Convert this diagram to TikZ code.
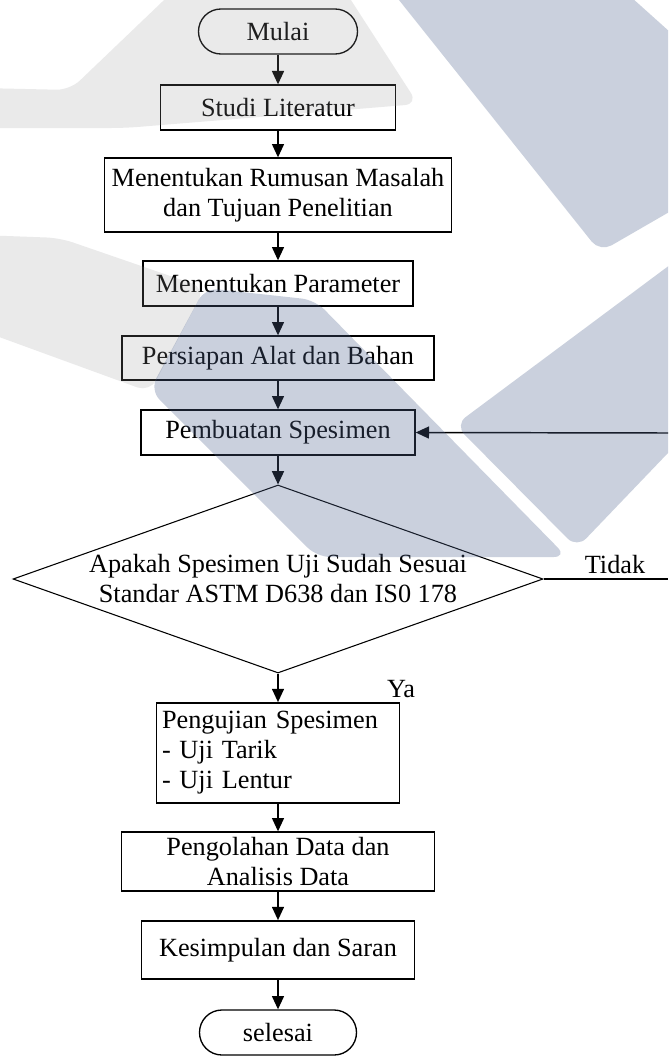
\documentclass[tikz,border=0pt]{standalone}
\usepackage{fontspec}
\setmainfont{Liberation Serif}
\usetikzlibrary{shapes.geometric,arrows.meta}
\newcommand\flowfont{\fontsize{19.7}{22.5}\selectfont}
\definecolor{wmblue}{RGB}{82,102,145}
\definecolor{wmgrey}{RGB}{150,150,152}
\begin{document}
\begin{tikzpicture}[x=0.75pt,y=-0.75pt,
  box/.style={draw=black,line width=1pt,rectangle,inner sep=0pt,align=center,font=\flowfont},
  term/.style={box,rounded corners=16.8pt},
  arr/.style={line width=1.1pt,-{Triangle[width=9pt,length=10pt]}},
  lbl/.style={font=\flowfont,inner sep=0pt},
  wmb/.style={fill=wmblue,fill opacity=0.3,rounded corners=10pt},
  wmg/.style={fill=wmgrey,fill opacity=0.2,rounded corners=10pt}]
\useasboundingbox (0,0) rectangle (668,1063);
\fill[white] (0,0) rectangle (668,1063);

\node[term,minimum width=119.25pt,minimum height=33.75pt] (mulai) at (278,31.5) {Mulai};
\node[box,minimum width=176.25pt,minimum height=33.75pt] (studi) at (278,107.5) {Studi Literatur};
\node[box,minimum width=260.25pt,minimum height=55.5pt] (rumusan) at (278,195) {Menentukan Rumusan Masalah\\dan Tujuan Penelitian};
\node[box,minimum width=202.5pt,minimum height=33.75pt] (param) at (278,283.5) {Menentukan Parameter};
\node[box,minimum width=234pt,minimum height=33pt] (persiapan) at (278,358) {Persiapan Alat dan Bahan};
\node[box,minimum width=205.5pt,minimum height=33.75pt] (pembuatan) at (278,432.5) {Pembuatan Spesimen};
\node[diamond,draw=black,line width=0.8pt,inner sep=0pt,minimum width=397.5pt,minimum height=141pt,
  label={[font=\flowfont,align=center,inner sep=0pt]center:Apakah Spesimen Uji Sudah Sesuai\\Standar ASTM D638 dan IS0 178}] (cek) at (278,579) {};
\node[box,line width=1.3pt,minimum width=182.25pt,minimum height=75pt,text width=174pt,align=left] (uji) at (278,753) {Pengujian Spesimen\\- Uji Tarik\\- Uji Lentur};
\node[box,minimum width=234.75pt,minimum height=44.25pt] (olah) at (278,861.5) {Pengolahan Data dan\\Analisis Data};
\node[box,line width=1.3pt,minimum width=204.75pt,minimum height=43.5pt] (simpul) at (278,950) {Kesimpulan dan Saran};
\node[term,minimum width=117.75pt,minimum height=33.75pt] (selesai) at (278,1032.5) {selesai};

\node[lbl] (tidak) at (615,565) {Tidak};
\node[lbl] (ya) at (401,689) {Ya};
\coordinate (tidakend) at (668,579);
\coordinate (backstart) at (668,433);

\draw[arr] (mulai) -- (studi);
\draw[arr] (studi) -- (rumusan);
\draw[arr] (rumusan) -- (param);
\draw[arr] (param) -- (persiapan);
\draw[arr] (persiapan) -- (pembuatan);
\draw[arr] (pembuatan) -- (cek.north);
\draw[arr] (cek.south) -- (uji);
\draw[arr] (uji) -- (olah);
\draw[arr] (olah) -- (simpul);
\draw[arr] (simpul) -- (selesai);
\draw[line width=0.8pt] (cek.east) -- (tidakend);
\draw[arr] (backstart) -- (pembuatan.east);

% watermark
\begin{scope}
\clip (0,0) rectangle (668,1063);
\fill[wmg] (-20,88) -- (70,90) -- (185,-20) -- (338,-20) -- (418,104) -- (125,128) -- (-20,128) -- cycle;
\fill[wmg] (-20,235) -- (60,238) -- (205,288) -- (150,392) -- (-20,330) -- cycle;
\fill[wmb] (383,-20) -- (612,-20) -- (690,50) -- (690,200) -- (600,252) -- cycle;
\fill[wmb] (455,425) -- (690,250) -- (690,430) -- (577,548) -- cycle;
\fill[wmb] (205,288) -- (315,300) -- (567,557) -- (317,557) -- (150,390) -- cycle;
\end{scope}
\end{tikzpicture}
\end{document}
